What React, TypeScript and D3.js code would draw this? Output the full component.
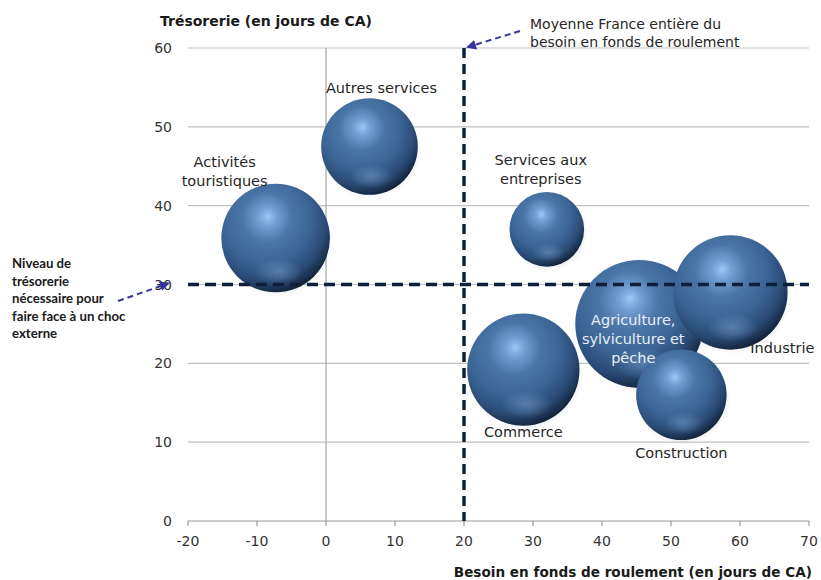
import React from "react";
import * as d3 from "d3";

// ---- data ----
const categories = [
  "Activités touristiques",
  "Autres services",
  "Services aux entreprises",
  "Commerce",
  "Agriculture, sylviculture et pêche",
  "Industrie",
  "Construction",
];
const bfrJours = [-7.3, 6.3, 32, 28.6, 45.4, 58.6, 51.5];
const tresoJours = [35.9, 47.5, 37, 19.2, 25, 29, 16];
const poids = [72, 57, 34, 77, 100, 80, 50];

const xTicks = [-20, -10, 0, 10, 20, 30, 40, 50, 60, 70];
const yTicks = [0, 10, 20, 30, 40, 50, 60];

const bfrMoyenFrance = 20;
const tresoNecessaire = 30;

// label layout (lines + offsets relative to bubble centre)
const labelLayout: Record<string, { lines: string[]; dx: number; dy: number; anchor: string; fill: string }> = {
  "Activités touristiques": { lines: ["Activités", "touristiques"], dx: -51, dy: -71, anchor: "middle", fill: "#262626" },
  "Autres services": { lines: ["Autres services"], dx: 12, dy: -54, anchor: "middle", fill: "#262626" },
  "Services aux entreprises": { lines: ["Services aux", "entreprises"], dx: -6, dy: -64, anchor: "middle", fill: "#262626" },
  Commerce: { lines: ["Commerce"], dx: 0, dy: 67, anchor: "middle", fill: "#262626" },
  "Agriculture, sylviculture et pêche": { lines: ["Agriculture,", "sylviculture et", "pêche"], dx: -6, dy: 1, anchor: "middle", fill: "#e9eef6" },
  Industrie: { lines: ["Industrie"], dx: 20, dy: 61, anchor: "start", fill: "#262626" },
  Construction: { lines: ["Construction"], dx: 0, dy: 63, anchor: "middle", fill: "#262626" },
};

const W = 821;
const H = 580;

export default function App() {
  const x = d3.scaleLinear().domain([-20, 70]).range([188, 809]);
  const y = d3.scaleLinear().domain([0, 60]).range([521, 48]);
  const r = d3.scaleSqrt().domain([0, 100]).range([0, 64]);

  const font = "'DejaVu Sans', Verdana, sans-serif";
  const gridColor = "#c0c0c0";
  const dashColor = "#0e1f3b";
  const arrowColor = "#3434a0";

  const bubbles = categories.map((c, i) => ({
    c,
    cx: x(bfrJours[i]),
    cy: y(tresoJours[i]),
    rr: r(poids[i]),
  }));

  return (
    <svg
      width={W}
      height={H}
      style={{ position: "absolute", left: 0, top: 0, background: "#fff" }}
      fontFamily={font}
    >
      <defs>
        <radialGradient id="sphere" cx="40%" cy="34%" r="72%" fx="43%" fy="30%">
          <stop offset="0%" stopColor="#9cc6f5" />
          <stop offset="12%" stopColor="#729fd2" />
          <stop offset="32%" stopColor="#4a76a7" />
          <stop offset="58%" stopColor="#3a6494" />
          <stop offset="78%" stopColor="#2a4a75" />
          <stop offset="92%" stopColor="#172a45" />
          <stop offset="100%" stopColor="#0c1626" />
        </radialGradient>
        <radialGradient id="reflect" cx="50%" cy="50%" r="50%">
          <stop offset="0%" stopColor="#7ea4d2" stopOpacity="0.5" />
          <stop offset="100%" stopColor="#7ea4d2" stopOpacity="0" />
        </radialGradient>
        <radialGradient id="shadow" cx="50%" cy="50%" r="50%">
          <stop offset="60%" stopColor="#8a96a8" stopOpacity="0.4" />
          <stop offset="100%" stopColor="#8a96a8" stopOpacity="0" />
        </radialGradient>
        <marker id="arrowHead" viewBox="0 0 10 10" refX="8" refY="5" markerWidth="5" markerHeight="5" orient="auto">
          <path d="M0,0 L10,5 L0,10 z" fill={arrowColor} />
        </marker>
      </defs>

      {/* gridlines */}
      {yTicks.map((t) => (
        <line key={"g" + t} x1={x(-20)} x2={x(70)} y1={y(t)} y2={y(t)} stroke={t === 0 ? "#9a9a9a" : gridColor} strokeWidth={1.2} />
      ))}
      {/* vertical axis line at x=0 */}
      <line x1={x(0)} x2={x(0)} y1={y(60)} y2={y(0)} stroke="#a6a6a6" strokeWidth={1.2} />
      {/* x tick marks */}
      {xTicks.map((t) => (
        <line key={"t" + t} x1={x(t)} x2={x(t)} y1={y(0)} y2={y(0) + 5} stroke="#9a9a9a" strokeWidth={1.2} />
      ))}

      {/* tick labels */}
      {yTicks.map((t) => (
        <text key={"yl" + t} x={172} y={y(t)} dy="0.36em" textAnchor="end" fontSize={14} fill="#333">
          {t}
        </text>
      ))}
      {xTicks.map((t) => (
        <text key={"xl" + t} x={x(t)} y={546} textAnchor="middle" fontSize={14} fill="#333">
          {t}
        </text>
      ))}

      {/* bubbles */}
      {bubbles.map((b) => (
        <g key={b.c}>
          <ellipse cx={b.cx + 2} cy={b.cy + 4} rx={b.rr + 2} ry={b.rr + 1} fill="url(#shadow)" />
          <circle cx={b.cx} cy={b.cy} r={b.rr} fill="url(#sphere)" />
          <ellipse cx={b.cx + b.rr * 0.05} cy={b.cy + b.rr * 0.62} rx={b.rr * 0.45} ry={b.rr * 0.25} fill="url(#reflect)" />
        </g>
      ))}

      {/* reference dashed lines */}
      <line x1={x(bfrMoyenFrance)} x2={x(bfrMoyenFrance)} y1={y(60)} y2={y(0)} stroke={dashColor} strokeWidth={3.5} strokeDasharray="10,6" />
      <line x1={x(-20)} x2={x(70)} y1={y(tresoNecessaire)} y2={y(tresoNecessaire)} stroke={dashColor} strokeWidth={3.5} strokeDasharray="11,6" />

      {/* bubble labels */}
      {bubbles.map((b) => {
        const L = labelLayout[b.c];
        return (
          <text key={"l" + b.c} x={b.cx + L.dx} y={b.cy + L.dy} textAnchor={L.anchor} fontSize={14.5} fill={L.fill}>
            {L.lines.map((ln, k) => (
              <tspan key={k} x={b.cx + L.dx} dy={k === 0 ? 0 : 19}>
                {ln}
              </tspan>
            ))}
          </text>
        );
      })}

      {/* axis titles */}
      <text x={160} y={26} fontSize={14} fontWeight="bold" fill="#1a1a1a">
        Trésorerie (en jours de CA)
      </text>
      <text x={812} y={577} textAnchor="end" fontSize={13.6} fontWeight="bold" fill="#1a1a1a">
        Besoin en fonds de roulement (en jours de CA)
      </text>

      {/* top annotation */}
      <text x={530} y={29} fontSize={14} fill="#262626">
        <tspan x={530}>Moyenne France entière du</tspan>
        <tspan x={530} dy={18}>besoin en fonds de roulement</tspan>
      </text>
      <line x1={520} y1={31} x2={x(bfrMoyenFrance) + 4} y2={y(60) - 1} stroke={arrowColor} strokeWidth={2} strokeDasharray="6,4" markerEnd="url(#arrowHead)" />

      {/* left annotation */}
      <text x={12} y={268} fontSize={13.2} fontWeight="bold" fill="#1a1a1a" fontFamily="Lato, 'Open Sans', sans-serif">
        {["Niveau de", "trésorerie", "nécessaire pour", "faire face à un choc", "externe"].map((ln, k) => (
          <tspan key={k} x={12} dy={k === 0 ? 0 : 17.5}>
            {ln}
          </tspan>
        ))}
      </text>
      <line x1={118} y1={301} x2={x(-20) - 20} y2={y(tresoNecessaire) - 1} stroke={arrowColor} strokeWidth={2} strokeDasharray="6,4" markerEnd="url(#arrowHead)" />
    </svg>
  );
}
